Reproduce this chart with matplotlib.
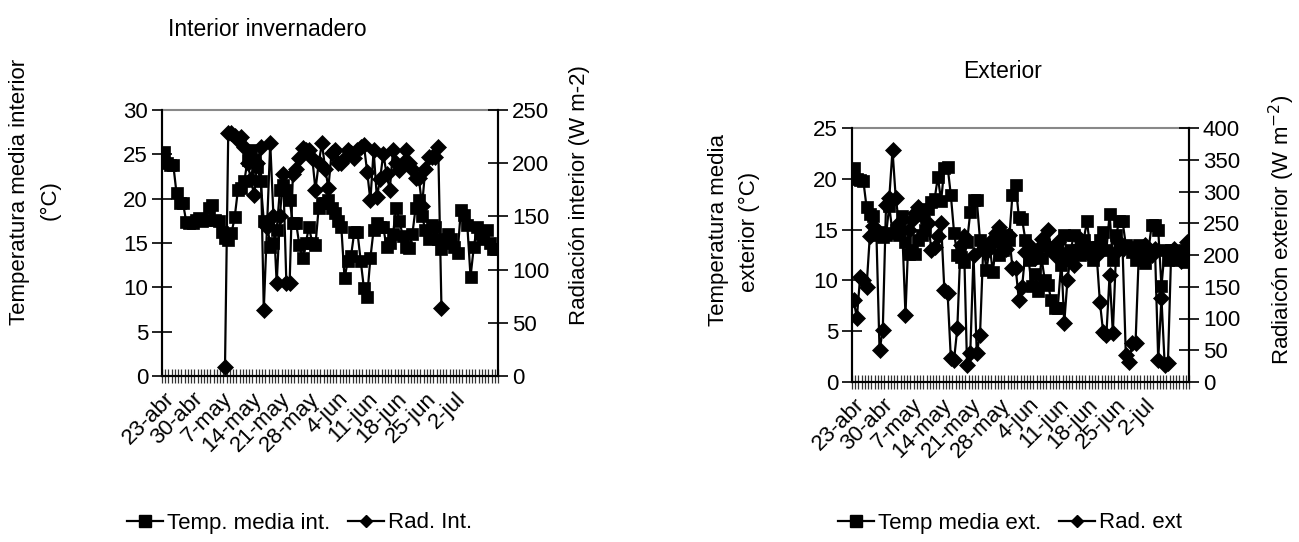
import numpy as np
import matplotlib
matplotlib.use('Agg')
import matplotlib.pyplot as plt
from matplotlib.lines import Line2D

plt.rcParams['font.family'] = ['Liberation Sans', 'DejaVu Sans']

# ---------------- data ----------------
date_labels = ['23-abr', '30-abr', '7-may', '14-may', '21-may', '28-may',
               '4-jun', '11-jun', '18-jun', '25-jun', '2-jul']
label_step = 9
n_cat = 104

temp_int = [25.3, 24.0, 23.8, 23.8, 20.6, 19.5, 19.5, 17.4, 17.3, 17.3,
            17.6, 17.8, 17.5, 17.6, 19.0, 19.3, 17.6, 17.5, 16.2, 15.6,
            15.3, 16.1, 17.9, 21.0, 21.2, 22.0, 24.4, 25.5, 24.4, 23.6,
            22.0, 17.5, 17.3, 14.6, 15.0, 16.5, 21.0, 21.5, 21.0, 19.8,
            17.3, 17.3, 14.8, 13.3, 15.0, 16.8, 15.0, 14.8, 19.0, 19.5,
            19.5, 19.8, 19.0, 18.4, 17.5, 16.8, 11.0, 13.0, 13.5, 16.2,
            16.2, 13.0, 9.9, 8.9, 13.3, 16.5, 17.3, 16.8, 16.8, 14.5,
            15.0, 16.0, 19.0, 17.5, 15.8, 14.5, 14.4, 16.0, 19.0, 19.8,
            18.0, 16.5, 15.5, 17.0, 16.8, 15.5, 14.3, 15.0, 16.0, 15.5,
            14.5, 13.9, 18.7, 18.2, 17.0, 11.2, 14.5, 16.8, 16.0, 15.5,
            16.5, 15.0, 14.3, 14.3]

rad_int = [None] * 19 + [
            8.5, 228, 228, 226, 222, 225, 215, 200, 185, 170,
            200, 215, 62, 140, 219, 150, 87, 150, 190, 87,
            87, 190, 195, 205, 214, 212, 212, 205, 175, 200,
            219, 195, 177, 210, 212, 200, 200, 205, 212, 210,
            205, 212, 215, 217, 192, 165, 212, 168, 185, 209,
            190, 175, 212, 200, 194, 200, 212, 200, 195, 186,
            186, 160, 195, 206, 206, 206, 215, 64] + [None] * 17

temp_ext = [21.1, 20.0, 19.9, 19.8, 17.2, 16.5, 16.3, 14.5, 14.8, 14.3,
            14.5, 17.3, 14.7, 15.0, 14.5, 16.3, 13.8, 12.6, 13.0, 12.6,
            14.0, 14.5, 15.0, 17.0, 17.7, 18.0, 20.2, 17.8, 21.1, 21.2,
            18.4, 14.7, 12.5, 12.3, 11.8, 13.8, 16.7, 17.9, 17.9, 14.0,
            13.5, 11.0, 13.3, 10.8, 14.0, 12.5, 13.0, 14.5, 14.0, 18.4,
            19.4, 16.2, 16.0, 14.0, 12.0, 9.4, 10.6, 9.0, 12.2, 10.0,
            9.5, 8.1, 7.3, 7.3, 11.5, 14.5, 12.0, 13.0, 14.5, 13.0,
            12.5, 14.0, 15.8, 13.3, 12.0, 13.3, 14.0, 14.8, 13.0, 16.5,
            12.0, 14.5, 15.8, 15.8, 13.5, 13.3, 12.8, 12.0, 13.5, 12.5,
            11.7, 13.0, 15.5, 15.5, 15.0, 9.4, 13.0, 12.0, 13.0, 12.5,
            12.0, 12.5, 13.0, 11.8]

rad_ext = [129, 101, 165, 160, 150, 230, 245, 240, 50, 82,
           279, 290, 365, 290, 250, 240, 106, 240, 255, 266,
           276, 262, 270, 250, 208, 213, 230, 250, 145, 140,
           38, 35, 85, 215, 230, 27, 46, 200, 46, 74,
           210, 205, 215, 225, 235, 244, 225, 210, 232, 180,
           180, 129, 150, 205, 215, 200, 195, 210, 225, 215,
           239, 210, 200, 220, 205, 93, 161, 200, 185, 210,
           225, 215, 205, 200, 210, 200, 126, 79, 74, 169,
           77, 205, 220, 210, 43, 31, 61, 61, 200, 205,
           215, 210, 200, 210, 35, 132, 27, 30, 205, 210,
           200, 190, 205, 220]

# ---------------- figure ----------------
W, H = 1299, 542
fig = plt.figure(figsize=(W / 100, H / 100), dpi=100)
FS = 16


def rect(x0, x1, ytop, ybot):
    return [x0 / W, 1 - ybot / H, (x1 - x0) / W, (ybot - ytop) / H]


def fx(x):
    return x / W


def fy(y):
    return 1 - y / H


def to_arr(v):
    return np.array([np.nan if a is None else a for a in v], dtype=float)


def panel(r, temp, rad, ymax, ystep, y2max, y2step):
    ax = fig.add_axes(r)
    x = np.arange(n_cat)
    ax.plot(x, to_arr(temp), color='black', lw=1.6, marker='s', ms=8.5,
            mec='black', mfc='black', mew=0.5, zorder=3)
    ax.set_xlim(-0.5, n_cat - 0.5)
    ax.set_ylim(0, ymax)
    ax.set_yticks(np.arange(0, ymax + 0.1, ystep))
    ax.tick_params(axis='y', direction='inout', length=14, width=1.2,
                   labelsize=FS, pad=3)
    # category boundary ticks
    ax.set_xticks(np.arange(n_cat + 1) - 0.5)
    ax.set_xticklabels([])
    ax.tick_params(axis='x', which='major', direction='inout', length=10,
                   width=0.9, color='#333333')
    lab_pos = np.arange(len(date_labels)) * label_step
    ax.set_xticks(lab_pos, minor=True)
    ax.set_xticklabels(date_labels, minor=True, rotation=45, ha='right',
                       va='top', rotation_mode='anchor', fontsize=FS)
    ax.tick_params(axis='x', which='minor', length=0, pad=9)
    for s in ['left', 'bottom', 'right']:
        ax.spines[s].set_linewidth(1.5)
        ax.spines[s].set_color('black')
    ax.spines['top'].set_color('#888888')
    ax.spines['top'].set_linewidth(1.5)

    ax2 = ax.twinx()
    ax2.plot(x, to_arr(rad), color='black', lw=1.6, marker='D', ms=8,
             mec='black', mfc='black', mew=0.5, zorder=3)
    ax2.set_xlim(-0.5, n_cat - 0.5)
    ax2.set_ylim(0, y2max)
    ax2.set_yticks(np.arange(0, y2max + 0.1, y2step))
    ax2.tick_params(axis='y', direction='inout', length=14, width=1.2,
                    labelsize=FS, pad=3)
    for s in ['left', 'bottom', 'right']:
        ax2.spines[s].set_linewidth(1.5)
    ax2.spines['top'].set_visible(False)
    return ax, ax2


# left panel: interior
panel(rect(162, 498, 110, 376), temp_int, rad_int, 30, 5, 250, 50)
# right panel: exterior
panel(rect(852, 1189, 128, 382), temp_ext, rad_ext, 25, 5, 400, 50)

# titles
fig.text(fx(267), fy(30), 'Interior invernadero', ha='center', va='center',
         fontsize=FS + 0.5)
fig.text(fx(1003), fy(72), 'Exterior', ha='center', va='center',
         fontsize=FS + 0.5)

# y labels
fig.text(fx(20), fy(192), 'Temperatura media interior', rotation=90,
         ha='center', va='center', fontsize=FS)
fig.text(fx(50), fy(200), '(°C)', rotation=90, ha='center', va='center',
         fontsize=FS)
fig.text(fx(580), fy(195), 'Radiación interior (W m-2)', rotation=90,
         ha='center', va='center', fontsize=FS)

fig.text(fx(718), fy(230), 'Temperatura media', rotation=90,
         ha='center', va='center', fontsize=FS)
fig.text(fx(749), fy(232), 'exterior (°C)', rotation=90, ha='center',
         va='center', fontsize=FS)
fig.text(fx(1282), fy(230), r'Radiaicón exterior (W m$^{-2}$)', rotation=90,
         ha='center', va='center', fontsize=FS)

# legends
def handles():
    h1 = Line2D([], [], color='black', lw=1.6, marker='s', ms=8, mfc='black',
                mec='black')
    h2 = Line2D([], [], color='black', lw=1.6, marker='D', ms=6.5,
                mfc='black', mec='black')
    return [h1, h2]


fig.legend(handles(), ['Temp. media int.', 'Rad. Int.'], loc='center',
           bbox_to_anchor=(fx(300), fy(523)), ncol=2, frameon=False,
           fontsize=FS, handlelength=1.6, handletextpad=0.2,
           columnspacing=0.8)
fig.legend(handles(), ['Temp media ext.', 'Rad. ext'], loc='center',
           bbox_to_anchor=(fx(1010), fy(523)), ncol=2, frameon=False,
           fontsize=FS, handlelength=1.6, handletextpad=0.2,
           columnspacing=0.8)

fig.savefig('out.png', dpi=100)
